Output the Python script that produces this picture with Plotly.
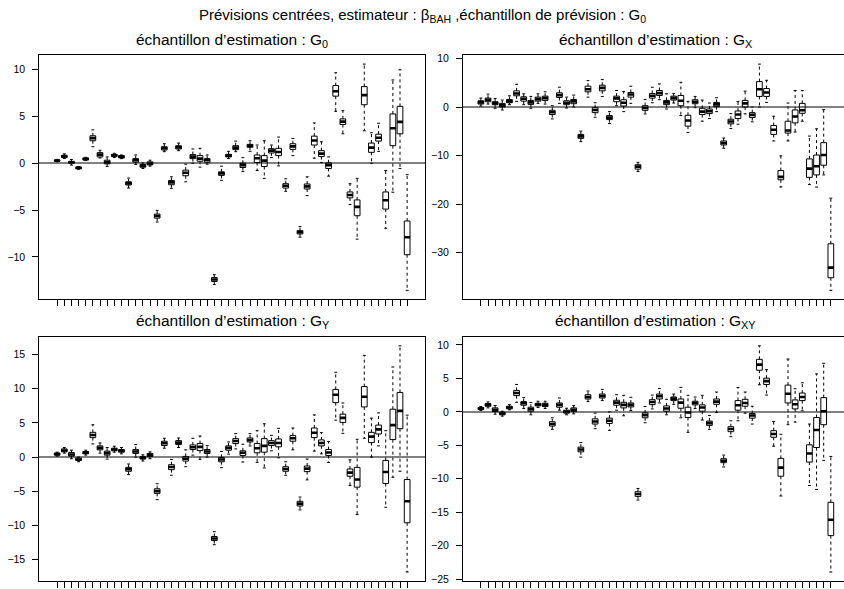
import plotly.graph_objects as go

positions = list(range(1, 51))

# ---------- Panel 1 : échantillon d'estimation G0 ----------
g0_low = [0.15, 0.50, -0.20, -0.65, 0.28, 1.76, 0.56, -0.35, 0.60, 0.49,
          -2.65, -0.14, -0.56, -0.32, -6.28, 1.23, -2.68, 1.34, -1.98, 0.00,
          -0.42, -0.10, -12.95, -1.83, 0.49, 1.23, -0.88, 1.27, -0.78, -1.62,
          0.60, -0.28, -3.00, 0.81, -7.90, -3.46, 0.53, 0.07, -1.38, 5.54,
          3.14, -4.41, -8.11, 3.46, 0.00, 1.27, -6.95, -3.10, -0.56, -13.58]
g0_q1 = [0.22, 0.60, 0.00, -0.58, 0.35, 2.40, 0.67, -0.07, 0.71, 0.56,
         -2.33, 0.11, -0.42, -0.18, -5.86, 1.41, -2.30, 1.52, -1.34, 0.49,
         0.21, 0.11, -12.63, -1.30, 0.67, 1.45, -0.46, 1.70, 0.07, -0.35,
         1.09, 0.81, -2.65, 1.48, -7.55, -2.75, 1.94, 0.71, -0.56, 7.16,
         4.13, -3.70, -5.61, 6.24, 1.16, 2.36, -4.90, 1.87, 3.14, -9.77]
g0_med = [0.28, 0.74, 0.10, -0.50, 0.45, 2.68, 0.92, 0.10, 0.85, 0.70,
          -2.15, 0.32, -0.28, -0.04, -5.64, 1.59, -2.05, 1.69, -1.02, 0.70,
          0.49, 0.35, -12.42, -1.09, 0.81, 1.66, -0.21, 1.87, 0.53, 0.28,
          1.34, 1.20, -2.40, 1.80, -7.37, -2.47, 2.43, 1.02, -0.21, 7.69,
          4.44, -3.39, -4.66, 7.27, 1.66, 2.72, -3.95, 3.74, 4.41, -7.90]
g0_q3 = [0.33, 0.85, 0.20, -0.42, 0.56, 2.93, 1.13, 0.32, 0.95, 0.81,
         -1.98, 0.49, -0.14, 0.14, -5.43, 1.76, -1.84, 1.87, -0.74, 0.92,
         0.81, 0.49, -12.21, -0.92, 0.95, 1.87, 0.00, 2.01, 0.88, 0.81,
         1.55, 1.59, -2.19, 2.08, -7.20, -2.22, 2.89, 1.34, 0.04, 8.29,
         4.73, -3.07, -3.92, 8.18, 2.15, 3.10, -3.07, 5.26, 6.07, -6.17]
g0_high = [0.40, 1.00, 0.40, -0.35, 0.63, 3.56, 1.38, 0.67, 1.06, 0.88,
           -1.59, 0.88, 0.04, 0.32, -5.04, 2.08, -1.45, 2.15, -0.10, 1.52,
           1.59, 0.88, -11.90, -0.32, 1.27, 2.36, 0.60, 2.40, 1.94, 2.40,
           1.94, 2.79, -1.66, 2.65, -6.77, -1.45, 4.30, 2.29, 0.67, 9.66,
           5.61, -2.19, -1.62, 10.58, 3.25, 4.27, -0.78, 8.89, 9.98, -1.23]

# ---------- Panel 2 : échantillon d'estimation GX ----------
gx_low = [0.20, 0.61, -0.27, -0.61, 0.48, 1.16, 0.48, -0.27, 0.75, 0.61,
          -2.45, 0.75, -0.20, 0.00, -7.14, 2.04, -2.11, 2.18, -3.40, 0.27,
          -0.95, 0.75, -13.30, -1.43, 0.88, 1.50, -0.41, 0.82, -1.77, -5.24,
          -0.14, -2.93, -2.38, -0.95, -8.50, -4.42, -3.54, -1.43, -3.06, 0.00,
          0.95, -7.00, -16.50, -7.00, -5.17, -2.93, -16.00, -16.50, -14.00, -37.80]
gx_q1 = [0.61, 1.09, 0.48, 0.00, 0.88, 2.31, 1.22, 0.54, 1.22, 1.36,
         -1.56, 1.97, 0.48, 0.68, -6.46, 3.13, -1.16, 3.33, -2.59, 1.09,
         0.20, 2.04, -12.80, -0.68, 1.84, 2.38, 0.48, 1.43, 0.27, -3.95,
         0.68, -1.56, -1.36, 0.07, -7.82, -3.47, -2.38, 0.00, -2.18, 2.18,
         2.18, -5.65, -15.00, -5.37, -3.27, -1.29, -14.50, -14.00, -12.00, -35.20]
gx_med = [0.95, 1.50, 0.75, 0.34, 1.16, 2.79, 1.70, 0.95, 1.63, 1.84,
          -1.09, 2.45, 0.88, 1.16, -6.05, 3.67, -0.61, 3.95, -2.18, 1.77,
          0.88, 2.59, -12.30, -0.20, 2.31, 2.86, 0.95, 1.84, 1.29, -2.79,
          1.09, -0.95, -0.88, 0.54, -7.41, -2.99, -1.56, 0.75, -1.63, 3.67,
          2.99, -4.69, -14.40, -4.83, -1.97, -0.68, -12.70, -12.20, -9.90, -33.10]
gx_q3 = [1.29, 1.84, 1.09, 0.75, 1.56, 3.33, 2.11, 1.36, 2.04, 2.24,
         -0.68, 2.93, 1.29, 1.56, -5.65, 4.29, -0.14, 4.49, -1.77, 2.24,
         1.50, 2.99, -11.90, 0.27, 2.79, 3.40, 1.36, 2.24, 2.38, -1.70,
         1.50, -0.27, -0.41, 0.95, -7.00, -2.52, -0.82, 1.36, -1.16, 5.24,
         3.81, -3.81, -13.10, -2.93, -0.61, 0.75, -10.70, -9.90, -7.35, -28.20]
gx_high = [1.84, 2.65, 1.77, 1.43, 2.31, 4.69, 2.72, 2.18, 2.72, 3.13,
           0.27, 4.08, 2.04, 2.45, -4.97, 5.44, 0.88, 5.65, -0.95, 3.40,
           3.20, 4.29, -11.40, 1.56, 4.08, 4.76, 2.72, 2.79, 5.10, 1.16,
           2.18, 1.43, 0.82, 1.90, -6.39, -1.36, 1.16, 3.27, 0.00, 8.84,
           5.51, -1.90, -10.07, 0.82, 3.40, 3.40, -5.99, -4.49, -0.54, -18.80]

# ---------- Panel 3 : échantillon d'estimation GY ----------
gy_low = [0.14, 0.58, -0.24, -0.68, 0.29, 1.93, 0.58, -0.29, 0.72, 0.48,
          -2.56, 0.00, -0.58, -0.24, -6.22, 1.30, -2.65, 1.40, -1.40, 0.29,
          -0.34, 0.00, -12.80, -1.54, 0.43, 1.20, -0.72, 1.64, -0.77, -1.59,
          0.92, -0.10, -2.65, 1.06, -7.72, -3.33, 0.87, 0.48, -0.77, 5.40,
          3.47, -4.15, -8.39, 2.75, 0.00, 1.64, -7.33, -2.94, -2.07, -16.79]
gy_q1 = [0.29, 0.77, 0.14, -0.48, 0.48, 2.85, 1.06, 0.29, 0.92, 0.72,
         -2.07, 0.53, -0.29, 0.10, -5.30, 1.69, -1.83, 1.83, -0.58, 1.11,
         0.96, 0.53, -12.20, -0.68, 1.01, 1.98, 0.24, 2.22, 0.63, 0.72,
         1.69, 1.50, -2.07, 2.32, -7.14, -2.12, 2.85, 1.64, 0.24, 7.96,
         5.07, -2.80, -4.39, 7.33, 2.12, 3.38, -3.86, 2.56, 4.15, -9.60]
gy_med = [0.43, 0.96, 0.39, -0.34, 0.63, 3.23, 1.35, 0.58, 1.11, 0.92,
          -1.78, 0.82, -0.10, 0.29, -4.97, 2.03, -1.45, 2.12, -0.24, 1.45,
          1.50, 0.82, -11.90, -0.34, 1.35, 2.36, 0.63, 2.51, 1.30, 1.64,
          2.07, 2.07, -1.74, 2.75, -6.80, -1.69, 3.57, 2.07, 0.68, 9.12,
          5.74, -2.27, -3.28, 8.83, 2.99, 4.05, -2.17, 4.68, 6.75, -6.46]
gy_q3 = [0.58, 1.20, 0.68, -0.14, 0.82, 3.62, 1.64, 0.87, 1.30, 1.11,
         -1.50, 1.11, 0.10, 0.53, -4.63, 2.32, -1.11, 2.41, 0.10, 1.78,
         1.98, 1.11, -11.60, -0.05, 1.64, 2.70, 0.92, 2.80, 1.98, 2.70,
         2.41, 2.65, -1.40, 3.14, -6.46, -1.30, 4.25, 2.51, 1.11, 9.89,
         6.27, -1.74, -1.50, 10.30, 3.62, 4.68, -0.48, 7.00, 9.45, -3.28]
gy_high = [0.72, 1.40, 1.01, 0.00, 1.01, 4.73, 2.07, 1.40, 1.59, 1.40,
           -1.01, 1.83, 0.34, 0.77, -3.90, 2.75, -0.34, 2.80, 1.06, 2.75,
           3.09, 1.69, -10.90, 0.82, 2.22, 3.43, 1.88, 3.43, 3.86, 4.87,
           3.18, 4.20, -0.68, 4.25, -5.84, -0.29, 6.17, 3.57, 2.27, 12.40,
           7.91, -0.39, 2.60, 14.86, 5.69, 6.46, 3.86, 13.17, 16.26, 6.13]

# ---------- Panel 4 : échantillon d'estimation GXY ----------
gxy_low = [0.20, 0.59, -0.35, -0.64, 0.30, 1.43, 0.49, -0.44, 0.64, 0.49,
           -2.61, 0.25, -0.44, -0.30, -6.76, 1.53, -2.51, 1.68, -2.76, 0.25,
           -0.59, 0.20, -13.17, -1.63, 0.44, 1.33, -0.44, 1.13, -0.89, -3.06,
           0.49, -1.23, -2.61, -0.10, -8.23, -3.70, -1.33, -0.20, -1.82, 4.04,
           2.51, -5.13, -12.57, -1.92, -1.53, 0.15, -11.00, -11.59, -7.25, -23.92]
gxy_q1 = [0.35, 0.84, 0.05, -0.44, 0.44, 2.42, 0.99, 0.10, 0.89, 0.79,
          -2.12, 0.69, -0.20, 0.05, -5.97, 1.92, -1.82, 2.07, -1.73, 0.99,
          0.59, 0.74, -12.62, -0.89, 1.08, 1.92, 0.10, 1.68, 0.54, -0.84,
          1.04, 0.10, -2.02, 1.13, -7.59, -2.96, 0.25, 0.84, -0.94, 6.21,
          4.09, -3.80, -9.62, 1.33, 0.44, 1.68, -7.50, -5.33, -1.92, -18.49]
gxy_med = [0.49, 1.04, 0.30, -0.25, 0.64, 2.81, 1.28, 0.39, 1.08, 1.04,
           -1.82, 1.04, 0.05, 0.30, -5.62, 2.22, -1.43, 2.37, -1.33, 1.38,
           1.04, 1.04, -12.28, -0.49, 1.48, 2.32, 0.49, 1.97, 1.38, -0.10,
           1.33, 0.64, -1.68, 1.53, -7.30, -2.56, 0.99, 1.33, -0.54, 7.05,
           4.59, -3.30, -8.33, 2.71, 1.13, 2.22, -6.21, -2.71, 0.10, -16.12]
gxy_q3 = [0.64, 1.23, 0.59, -0.05, 0.84, 3.20, 1.53, 0.69, 1.28, 1.28,
          -1.48, 1.33, 0.25, 0.59, -5.28, 2.56, -1.04, 2.66, -0.94, 1.73,
          1.43, 1.33, -11.93, -0.15, 1.82, 2.66, 0.89, 2.22, 1.92, 0.69,
          1.58, 1.04, -1.38, 1.92, -7.00, -2.22, 1.68, 1.87, -0.25, 7.84,
          5.03, -2.81, -6.95, 3.99, 1.78, 2.81, -4.93, -0.84, 2.12, -13.51]
gxy_high = [0.79, 1.48, 0.94, 0.10, 1.08, 4.09, 2.12, 1.38, 1.58, 1.58,
            -0.89, 2.07, 0.54, 0.94, -4.59, 3.11, -0.20, 3.35, 0.00, 2.56,
            2.47, 2.17, -11.44, 0.79, 2.51, 3.50, 1.87, 2.66, 3.65, 2.47,
            2.22, 2.47, -0.54, 2.96, -6.46, -1.33, 3.65, 2.96, 0.84, 9.86,
            6.31, -1.43, -3.35, 7.89, 3.45, 4.34, -1.82, 5.67, 7.25, -6.66]

panels = [
    dict(low=g0_low, q1=g0_q1, med=g0_med, q3=g0_q3, high=g0_high,
         title="échantillon d’estimation : G<sub>0</sub>", dtick=5),
    dict(low=gx_low, q1=gx_q1, med=gx_med, q3=gx_q3, high=gx_high,
         title="échantillon d’estimation : G<sub>X</sub>", dtick=10),
    dict(low=gy_low, q1=gy_q1, med=gy_med, q3=gy_q3, high=gy_high,
         title="échantillon d’estimation : G<sub>Y</sub>", dtick=5),
    dict(low=gxy_low, q1=gxy_q1, med=gxy_med, q3=gxy_q3, high=gxy_high,
         title="échantillon d’estimation : G<sub>XY</sub>", dtick=5),
]

main_title = ("Prévisions centrées, estimateur : β<sub>BAH</sub> ,"
              "échantillon de prévision : G<sub>0</sub>")

W, H = 844, 589
FONT = "Liberation Sans, Arial, Helvetica, sans-serif"

# plot-region geometry in pixels (left, right, top, bottom)
PLOT_W = 385.7
geo = [
    (39.3, 39.3 + PLOT_W, 52.7, 300.0),
    (463.0, 463.0 + PLOT_W, 52.7, 300.0),
    (39.3, 39.3 + PLOT_W, 337.8, 585.0),
    (463.0, 463.0 + PLOT_W, 337.8, 585.0),
]
XLIM = (-1.5, 52.5)
BOXW = 0.8
STAPLE = 0.4

fig = go.Figure()
layout = dict(
    width=W, height=H, margin=dict(l=0, r=0, t=0, b=0),
    paper_bgcolor="white", plot_bgcolor="white",
    font=dict(family=FONT, color="black"), showlegend=False,
    annotations=[],
)

for k, p in enumerate(panels):
    idx = "" if k == 0 else str(k + 1)
    xa, ya = "x" + idx, "y" + idx
    left, right, top, bottom = geo[k]
    upp = (XLIM[1] - XLIM[0]) / PLOT_W
    xr_right = XLIM[1]
    dom_right = right
    if right > W:
        xr_right = XLIM[1] - (right - W) * upp
        dom_right = W
    x_dom = [left / W, dom_right / W]
    y_dom = [1 - bottom / H, 1 - top / H]

    lo, hi = min(p["low"]), max(p["high"])
    d = hi - lo
    yr = [lo - 0.04 * d, hi + 0.04 * d]

    fig.add_trace(go.Box(
        x=positions, q1=p["q1"], median=p["med"], q3=p["q3"],
        lowerfence=p["q1"], upperfence=p["q3"],
        width=BOXW, whiskerwidth=0, boxpoints=False,
        line=dict(color="black", width=1), fillcolor="rgba(0,0,0,0)",
        hoverinfo="skip", xaxis=xa, yaxis=ya,
    ))

    wx, wy = [], []
    sx, sy = [], []
    mx, my = [], []
    for i, lw, a, m, b, hw in zip(positions, p["low"], p["q1"], p["med"], p["q3"], p["high"]):
        wx += [i, i, None, i, i, None]
        wy += [b, hw, None, a, lw, None]
        sx += [i - STAPLE / 2, i + STAPLE / 2, None, i - STAPLE / 2, i + STAPLE / 2, None]
        sy += [hw, hw, None, lw, lw, None]
        mx += [i - BOXW / 2, i + BOXW / 2, None]
        my += [m, m, None]
    fig.add_trace(go.Scatter(x=wx, y=wy, mode="lines", xaxis=xa, yaxis=ya,
                             line=dict(color="black", width=1, dash="3px,3px"),
                             hoverinfo="skip"))
    fig.add_trace(go.Scatter(x=sx, y=sy, mode="lines", xaxis=xa, yaxis=ya,
                             line=dict(color="black", width=1), hoverinfo="skip"))
    fig.add_trace(go.Scatter(x=mx, y=my, mode="lines", xaxis=xa, yaxis=ya,
                             line=dict(color="black", width=2.6), hoverinfo="skip"))

    right_panel = k in (1, 3)
    layout["xaxis" + idx] = dict(
        domain=x_dom, range=[XLIM[0], xr_right], anchor=ya,
        tickvals=positions, showticklabels=False, ticks="outside", ticklen=6,
        tickcolor="black", tickwidth=1, showgrid=False, zeroline=False,
        showline=True, linecolor="black", linewidth=1, mirror=True,
    )
    layout["yaxis" + idx] = dict(
        domain=y_dom, range=yr, anchor=xa, dtick=p["dtick"], tick0=0,
        ticks="outside", ticklen=6, tickcolor="black", tickwidth=1,
        tickfont=dict(size=10.5, color="black"), ticklabelstandoff=5,
        showgrid=False, zeroline=True, zerolinecolor="#808080", zerolinewidth=2,
        showline=True, linecolor="black", linewidth=1,
        mirror=False if right_panel else True,
    )
    cx = (left + right) / 2
    cy = top - 15
    layout["annotations"].append(dict(
        text=p["title"], x=cx / W, y=1 - cy / H, xref="paper", yref="paper",
        xanchor="center", yanchor="middle", showarrow=False,
        font=dict(size=15.5, family=FONT, color="black"),
    ))

layout["annotations"].append(dict(
    text=main_title, x=422 / W, y=1 - 13 / H, xref="paper", yref="paper",
    xanchor="center", yanchor="middle", showarrow=False,
    font=dict(size=15, family=FONT, color="black"),
))

fig.update_layout(**layout)
fig.write_html("out.html")
